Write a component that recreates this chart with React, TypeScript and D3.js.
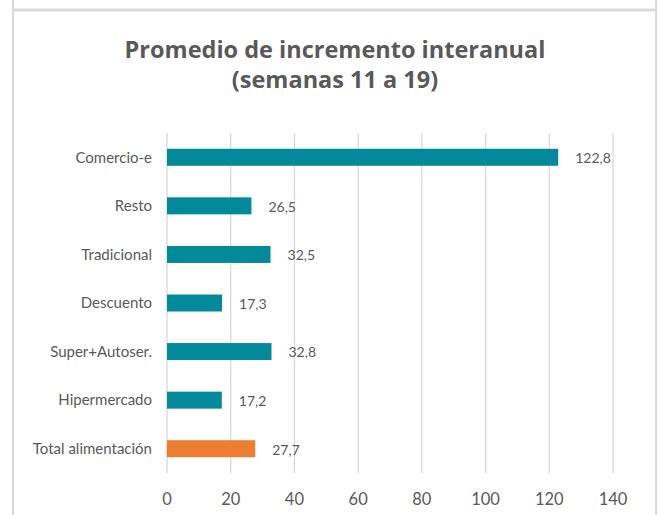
import React from "react";
import * as d3 from "d3";

const categories = [
  "Comercio-e",
  "Resto",
  "Tradicional",
  "Descuento",
  "Super+Autoser.",
  "Hipermercado",
  "Total alimentación",
];
const values = [122.8, 26.5, 32.5, 17.3, 32.8, 17.2, 27.7];
const barColors = ["#02899A", "#02899A", "#02899A", "#02899A", "#02899A", "#02899A", "#ED7D31"];
const xTicks = [0, 20, 40, 60, 80, 100, 120, 140];
const titleLines = ["Promedio de incremento interanual", "(semanas 11 a 19)"];

const W = 659;
const H = 515;
const FONT = "Lato, 'Open Sans', 'Liberation Sans', sans-serif";
const TITLE_FONT = "'Open Sans', Lato, 'Liberation Sans', sans-serif";
const TEXT = "#595959";

export default function App() {
  const x = d3.scaleLinear().domain([0, 140]).range([167, 613]);
  const y = d3.scaleBand<string>().domain(categories).range([133, 473]).paddingInner(0.65).paddingOuter(0.325);
  const fmt = (v: number) => v.toFixed(1).replace(".", ",");

  return (
    <svg width={W} height={H} style={{ position: "absolute", left: 0, top: 0, background: "#fff" }}>
      <rect x={0} y={0} width={W} height={H} fill="#fff" />
      {/* borders */}
      <line x1={13} x2={13} y1={0} y2={H} stroke="#D9D9D9" strokeWidth={2} />
      <line x1={656} x2={656} y1={0} y2={H} stroke="#D9D9D9" strokeWidth={2} />
      <line x1={12} x2={657} y1={10} y2={10} stroke="#D9D9D9" strokeWidth={3} />

      {/* title */}
      {titleLines.map((t, i) => (
        <text
          key={t}
          x={335}
          y={58 + i * 30}
          textAnchor="middle"
          fontFamily={TITLE_FONT}
          fontWeight="bold"
          fontSize={23.5}
          fill={TEXT}
        >
          {t}
        </text>
      ))}

      {/* gridlines */}
      {xTicks.map((t) => (
        <line key={"g" + t} x1={x(t)} x2={x(t)} y1={133} y2={473} stroke="#D9D9D9" strokeWidth={1.3} />
      ))}

      {/* bars */}
      {categories.map((c, i) => (
        <rect
          key={c}
          x={x(0)}
          y={y(c)!}
          width={x(values[i]) - x(0)}
          height={y.bandwidth()}
          fill={barColors[i]}
        />
      ))}

      {/* category labels */}
      {categories.map((c) => (
        <text
          key={"c" + c}
          x={152}
          y={y(c)! + y.bandwidth() / 2}
          dy="0.35em"
          textAnchor="end"
          fontFamily={FONT}
          fontSize={15}
          fill={TEXT}
        >
          {c}
        </text>
      ))}

      {/* value labels */}
      {categories.map((c, i) => (
        <text
          key={"v" + c}
          x={x(values[i]) + 17}
          y={y(c)! + y.bandwidth() / 2 + 1}
          dy="0.35em"
          textAnchor="start"
          fontFamily={FONT}
          fontSize={14}
          fill={TEXT}
        >
          {fmt(values[i])}
        </text>
      ))}

      {/* x tick labels */}
      {xTicks.map((t) => (
        <text
          key={"t" + t}
          x={x(t)}
          y={499}
          dy="0.35em"
          textAnchor="middle"
          fontFamily={FONT}
          fontSize={16.5}
          fill={TEXT}
        >
          {t}
        </text>
      ))}
    </svg>
  );
}
